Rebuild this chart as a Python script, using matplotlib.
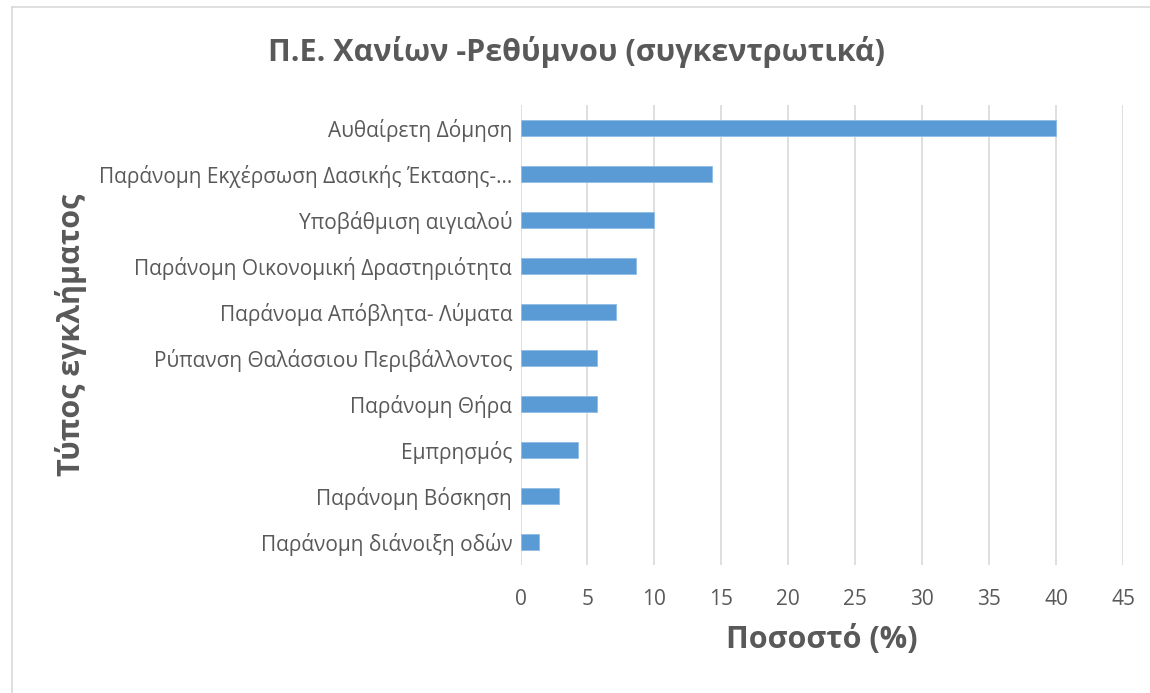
import matplotlib
matplotlib.use("Agg")
import matplotlib.pyplot as plt
from matplotlib.lines import Line2D

# data (percent of cases)
categories = [
    "Αυθαίρετη Δόμηση",
    "Παράνομη Εκχέρσωση Δασικής Έκτασης-...",
    "Υποβάθμιση αιγιαλού",
    "Παράνομη Οικονομική Δραστηριότητα",
    "Παράνομα Απόβλητα- Λύματα",
    "Ρύπανση Θαλάσσιου Περιβάλλοντος",
    "Παράνομη Θήρα",
    "Εμπρησμός",
    "Παράνομη Βόσκηση",
    "Παράνομη διάνοιξη οδών",
]
values = [40.0, 14.3, 10.0, 8.6, 7.1, 5.7, 5.7, 4.3, 2.9, 1.4]
xticks = [0, 5, 10, 15, 20, 25, 30, 35, 40, 45]

title = "Π.Ε. Χανίων -Ρεθύμνου (συγκεντρωτικά)"
xlabel = "Ποσοστό (%)"
ylabel = "Τύπος εγκλήματος"

TEXT = "#595959"
BAR = "#5B9BD5"
GRID = "#D9D9D9"

plt.rcParams["font.family"] = ["Open Sans", "DejaVu Sans"]

W, H = 1150, 693
fig = plt.figure(figsize=(W / 100, H / 100), dpi=100)
ax = fig.add_axes([520.5 / W, 1 - 565 / H, (1123 - 520.5) / W, (565 - 105) / H])

ypos = list(range(len(categories)))
ax.barh(ypos, values, height=0.35, color=BAR, edgecolor="#8FBCE6", linewidth=0.6, zorder=3)

ax.set_xlim(0, 45)
ax.set_ylim(len(categories) - 0.5, -0.5)
ax.set_xticks(xticks)
ax.set_xticklabels([str(t) for t in xticks])
ax.set_yticks(ypos)
ax.set_yticklabels(categories)
ax.tick_params(axis="both", length=0, labelsize=15, colors=TEXT)
ax.tick_params(axis="y", pad=6)
ax.tick_params(axis="x", pad=17)
ax.grid(axis="x", color=GRID, linewidth=1.2, zorder=0)
for s in ax.spines.values():
    s.set_visible(False)

fig.text(577 / W, 1 - 52 / H, title, ha="center", va="center",
         fontsize=22, fontweight="bold", color=TEXT)
fig.text(821.5 / W, 1 - 640 / H, xlabel, ha="center", va="center",
         fontsize=22, fontweight="bold", color=TEXT)
fig.text(71 / W, 1 - 335 / H, ylabel, ha="center", va="center", rotation=90,
         fontsize=22, fontweight="bold", color=TEXT)

# chart frame (left and top edges visible)
fig.add_artist(Line2D([12 / W, 12 / W], [0, 1 - 7 / H], color="#D9D9D9", linewidth=1.2))
fig.add_artist(Line2D([12 / W, 1], [1 - 7 / H, 1 - 7 / H], color="#D9D9D9", linewidth=1.2))

fig.savefig("out.png", dpi=100, facecolor="white")
